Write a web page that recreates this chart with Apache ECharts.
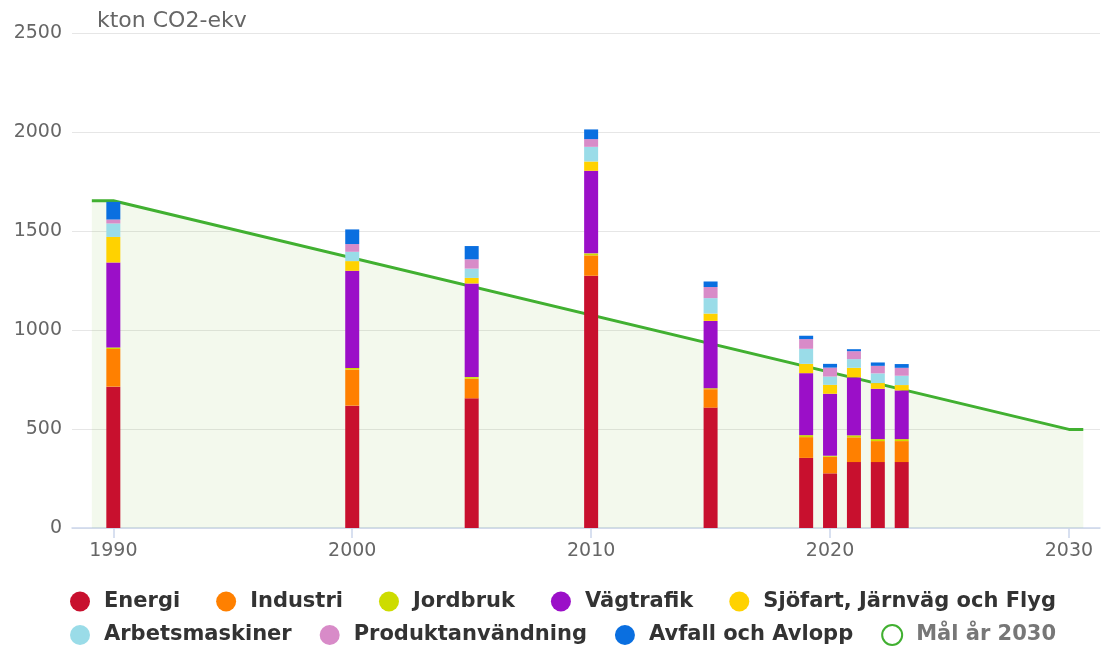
<!DOCTYPE html>
<html>
<head>
<meta charset="utf-8">
<script src="https://cdn.jsdelivr.net/npm/echarts@6/dist/echarts.min.js"></script>
<style>html,body{margin:0;padding:0;background:#fff}#c{width:1105px;height:647px}</style>
</head>
<body>
<div id="c"></div>
<script>
const years = [1990, 2000, 2005, 2010, 2015, 2019, 2020, 2021, 2022, 2023];
const energi = [714, 618, 655, 1274, 608, 354, 276, 333, 333, 333];
const industri = [190, 182, 99, 103, 93, 105, 84, 125, 106, 106];
const jordbruk = [8, 8, 8, 10, 5, 10, 5, 10, 10, 10];
const vagtrafik = [429, 491, 473, 417, 340, 313, 313, 293, 254, 246];
const sjofart = [129, 49, 28, 47, 37, 47, 45, 48, 29, 27];
const arbetsmaskiner = [68, 47, 47, 74, 78, 76, 42, 44, 49, 47];
const produkt = [20, 39, 47, 39, 56, 49, 45, 40, 38, 40];
const avfall = [89, 74, 67, 49, 28, 17, 19, 10, 17, 19];
const malYears = [1989.1, 1990, 2030, 2030.6];
const malValues = [1653, 1653, 498, 498];
const xTicks = [1990, 2000, 2010, 2020, 2030];

const seriesDefs = [
  ['Energi', energi, '#c8102e'],
  ['Industri', industri, '#ff8000'],
  ['Jordbruk', jordbruk, '#cddc00'],
  ['Vägtrafik', vagtrafik, '#9b0fc8'],
  ['Sjöfart, Järnväg och Flyg', sjofart, '#ffd200'],
  ['Arbetsmaskiner', arbetsmaskiner, '#9adce8'],
  ['Produktanvändning', produkt, '#d88bc8'],
  ['Avfall och Avlopp', avfall, '#0a6fe0']
];
const FONT = 'DejaVu Sans';
const green = '#41b031';

const series = [{
  name: 'Mål år 2030',
  type: 'line',
  data: malYears.map((y, i) => [y, malValues[i]]),
  symbol: 'none',
  z: 1,
  lineStyle: { color: green, width: 3 },
  itemStyle: { color: green },
  areaStyle: { color: 'rgba(120,185,50,0.12)', origin: 'start' }
}];
seriesDefs.forEach(([name, vals, color]) => {
  series.push({
    name, type: 'bar', stack: 'total', barWidth: 14, z: 3,
    itemStyle: { color },
    dimensions: ['value', 'year'],
    encode: { x: 1, y: 0 },
    data: years.map((y, i) => [vals[i], y])
  });
});

const legendText = { fontFamily: FONT, fontSize: 21, fontWeight: 'bold', color: '#333', padding: [0, 0, 0, 9] };
const chart = echarts.init(document.getElementById('c'), null, { renderer: 'canvas' });
chart.setOption({
  animation: false,
  title: {
    text: 'kton CO2-ekv', left: 92, top: 5,
    textStyle: { fontFamily: FONT, fontSize: 22, fontWeight: 'normal', color: '#666' }
  },
  grid: { left: 72, right: 5, top: 33, bottom: 119, containLabel: false },
  xAxis: {
    type: 'value', min: 1988.27, max: 2031.3,
    splitLine: { show: false },
    axisLine: { lineStyle: { color: '#ccd6eb', width: 1.5 } },
    axisTick: { show: true, length: 10, customValues: xTicks, lineStyle: { color: '#ccd6eb', width: 1.5 } },
    axisLabel: { customValues: xTicks, margin: 14, fontFamily: FONT, fontSize: 19, color: '#666', formatter: v => String(Math.round(v)) }
  },
  yAxis: {
    type: 'value', min: 0, max: 2500, interval: 500,
    axisLine: { show: false }, axisTick: { show: false },
    splitLine: { lineStyle: { color: '#e6e6e6', width: 1 } },
    axisLabel: { margin: 10, fontFamily: FONT, fontSize: 19, color: '#666', formatter: v => String(v) }
  },
  legend: [{
    left: 65, top: 586, itemWidth: 20, itemHeight: 20, itemGap: 36, icon: 'circle',
    textStyle: legendText,
    data: seriesDefs.slice(0, 5).map(d => d[0])
  }, {
    left: 65, top: 619, itemWidth: 20, itemHeight: 20, itemGap: 28, icon: 'circle',
    textStyle: legendText,
    data: seriesDefs.slice(5).map(d => d[0]).concat([{
      name: 'Mål år 2030', icon: 'circle',
      itemStyle: { color: '#fff', borderColor: green, borderWidth: 2 },
      textStyle: { color: '#777' }
    }])
  }],
  series
});
</script>
</body>
</html>
